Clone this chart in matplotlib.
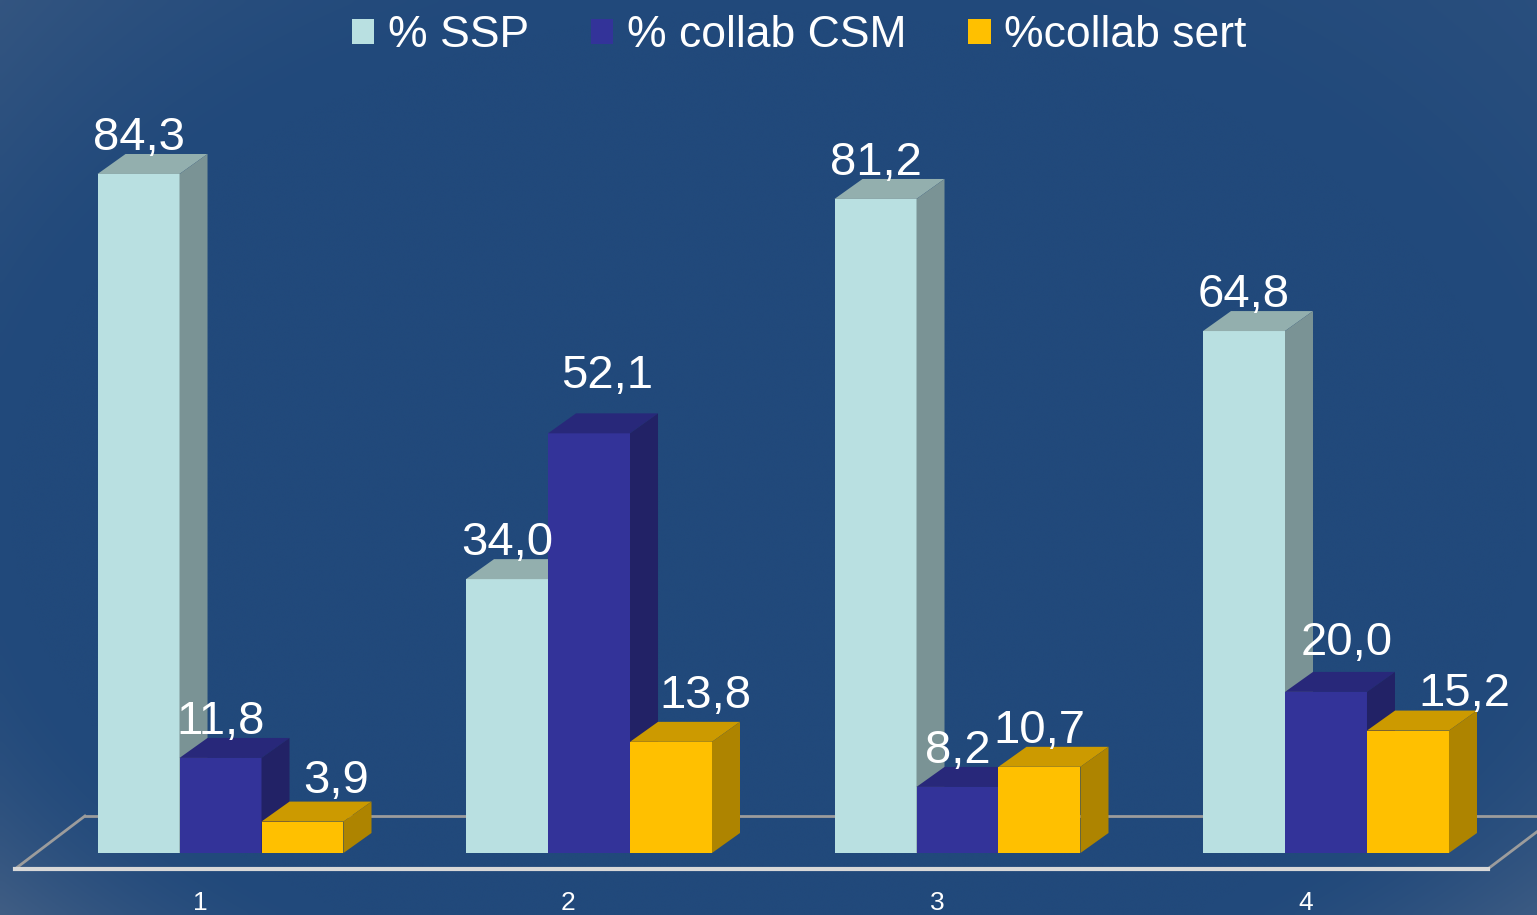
import numpy as np
import matplotlib.pyplot as plt
from matplotlib.patches import Polygon

plt.rcParams["font.family"] = ["Liberation Sans", "DejaVu Sans"]

categories = ["1", "2", "3", "4"]
series_names = ["% SSP", "% collab CSM", "%collab sert"]
ssp = [84.3, 34.0, 81.2, 64.8]
csm = [11.8, 52.1, 8.2, 20.0]
sert = [3.9, 13.8, 10.7, 15.2]
value_labels = [["84,3", "34,0", "81,2", "64,8"],
                ["11,8", "52,1", "8,2", "20,0"],
                ["3,9", "13,8", "10,7", "15,2"]]

# label nudges in pixels (dx, dy), so labels don't collide
label_shift = [[(0, 0), (0, 0), (0, 0), (0, 0)],
               [(0, 0), (18, 21), (0, 0), (21, 13)],
               [(34, 5), (34, 10), (0, 0), (56, 1)]]

# face colours: front, top, side
face_colors = [("#B9E0E1", "#93AFAE", "#7A9395"),
               ("#333399", "#28287A", "#222266"),
               ("#FFC000", "#CC9A00", "#AE8400")]

bg = np.array([33, 73, 123]) / 255.0

fig = plt.figure(figsize=(15.37, 9.15), dpi=100)
ax = fig.add_axes([0, 0, 1, 1])
x_lo, x_hi = 0.4016, 4.5726
y_lo, y_hi = -7.70, 105.9
ax.set_xlim(x_lo, x_hi)
ax.set_ylim(y_lo, y_hi)
ax.axis("off")
px_x = (x_hi - x_lo) / 1537
px_y = (y_hi - y_lo) / 915

# background with light vignette at the corners
ny, nx = 200, 330
yy, xx = np.mgrid[0:1:ny * 1j, 0:1:nx * 1j]
d = np.sqrt(((xx - 0.5) / 0.5) ** 2 + ((yy - 0.55) / 0.55) ** 2)
w = np.clip((d - 1.0) / 0.45, 0, 1) ** 1.5
w = w * (0.35 + 0.65 * yy) * (0.45 + 0.55 * (1 - xx) + 0.4 * yy * xx)
w = np.clip(w, 0, 1)
corner = np.array([92, 112, 140]) / 255.0
img = bg[None, None, :] * (1 - w[..., None]) + corner[None, None, :] * w[..., None]
ax.imshow(img, extent=[x_lo, x_hi, y_lo, y_hi], origin="upper",
          aspect="auto", zorder=0, interpolation="bicubic")

x = np.arange(1, len(categories) + 1)
width = 0.2225
ddx = 0.076
ddy = 2.48

# floor
fl, fr, bl = 0.4423, 4.439, 0.632
f_front, f_back = -1.99, 4.59
ax.plot([bl, 4.6], [f_back, f_back], color="#9C9C9C", lw=2, zorder=1)
ax.plot([fl, bl], [f_front, f_back], color="#9C9C9C", lw=2, zorder=1)
ax.plot([fr, fr + (4.629 - 4.439)], [f_front, f_back], color="#9C9C9C", lw=2, zorder=1)
ax.plot([fl, fr], [f_front, f_front], color="#D8D8D8", lw=3, zorder=1)

handles = []
for s, vals in enumerate([ssp, csm, sert]):
    front, top, side = face_colors[s]
    xs = x + (s - 1) * width
    for i, (xc, h) in enumerate(zip(xs, vals)):
        z = 2 + i * 10 + s * 3
        b = ax.bar(xc, h, width=width, color=front, zorder=z, linewidth=0)
        x0, x1 = xc - width / 2, xc + width / 2
        ax.add_patch(Polygon([(x0, h), (x1, h), (x1 + ddx, h + ddy), (x0 + ddx, h + ddy)],
                             closed=True, facecolor=top, edgecolor="none", zorder=z + 1))
        ax.add_patch(Polygon([(x1, 0), (x1 + ddx, ddy), (x1 + ddx, h + ddy), (x1, h)],
                             closed=True, facecolor=side, edgecolor="none", zorder=z + 1))
        sx, sy = label_shift[s][i]
        ax.text(xc + sx * px_x, h + ddy + 0.5 + sy * px_y, value_labels[s][i],
                ha="center", va="baseline", color="white", fontsize=34, zorder=100)
    handles.append(b)

for xc, lab in zip(x, categories):
    ax.text(xc - 0.056, -6.2, lab, ha="center", va="center", color="white",
            fontsize=19, zorder=100)

leg = ax.legend(handles, series_names, loc="upper center", bbox_to_anchor=(0.52, 1.027),
                ncol=3, frameon=False, fontsize=32, handlelength=0.5, handleheight=0.5,
                handletextpad=0.3, columnspacing=1.4, labelcolor="white")

fig.savefig("out.png", dpi=100)
